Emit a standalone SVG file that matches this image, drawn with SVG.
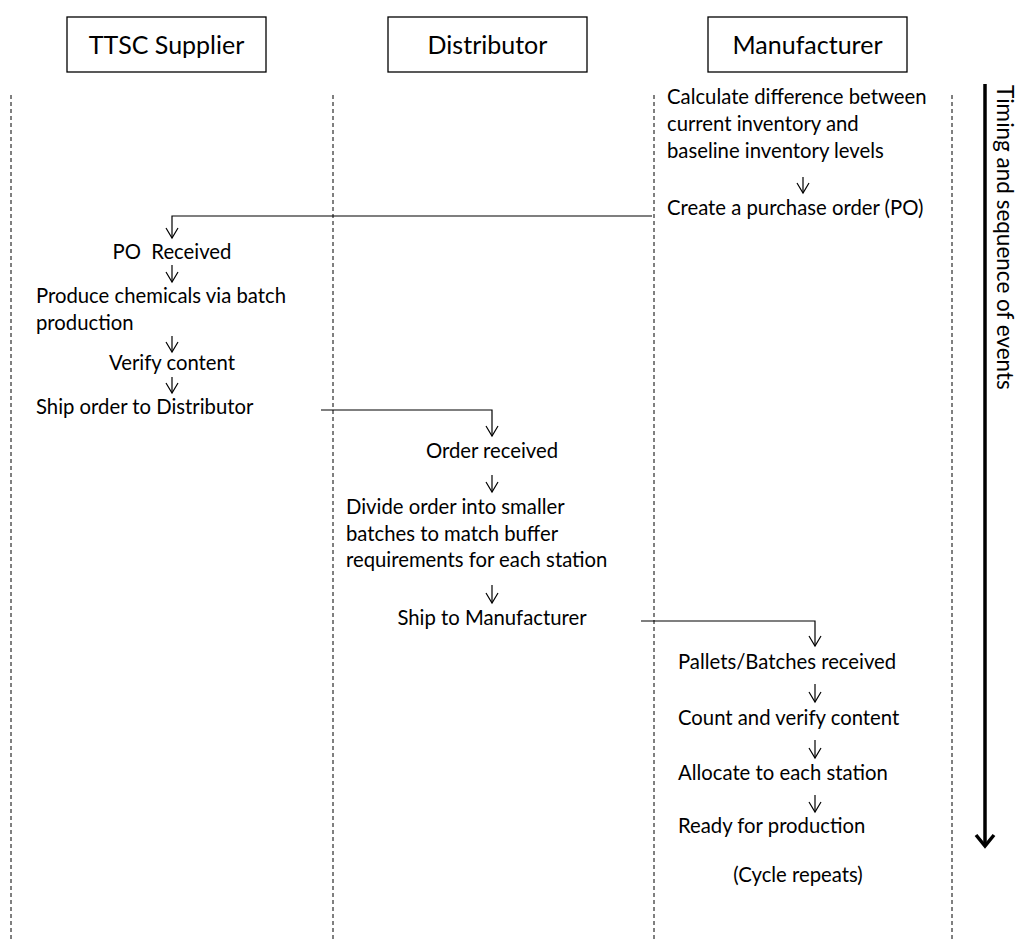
<svg xmlns="http://www.w3.org/2000/svg" width="1020" height="941" viewBox="0 0 1020 941">
<style>
.lane{stroke:#000;stroke-width:1;stroke-dasharray:4,3;fill:none}
.hdr{fill:#fff;stroke:#000;stroke-width:1.3}
.ht{font-family:Lato,"Open Sans",sans-serif;font-size:25px;fill:#000;text-anchor:middle}
.t{font-family:Lato,"Open Sans",sans-serif;font-size:20.3px;fill:#000;white-space:pre}
.c{text-anchor:middle}
.ln{stroke:#000;stroke-width:1.2;fill:none}
</style>
<defs>
<marker id="v" markerWidth="14" markerHeight="14" refX="11" refY="7" orient="auto" markerUnits="userSpaceOnUse" viewBox="0 0 14 14">
<path d="M1,1 L11,7 L1,13" fill="none" stroke="#000" stroke-width="1.2"/>
</marker>
<marker id="big" markerWidth="26" markerHeight="26" refX="20" refY="13" orient="auto" markerUnits="userSpaceOnUse" viewBox="0 0 26 26">
<path d="M9,4 L20,13 L9,22" fill="none" stroke="#000" stroke-width="3.5"/>
</marker>
</defs>
<rect width="1020" height="941" fill="#fff"/>
<g id="lanes">
<line class="lane" x1="11" y1="95" x2="11" y2="941"/>
<line class="lane" x1="333" y1="95" x2="333" y2="941"/>
<line class="lane" x1="654" y1="95" x2="654" y2="941"/>
<line class="lane" x1="952" y1="95" x2="952" y2="941"/>
</g>
<g id="hdr-supplier"><rect class="hdr" x="67" y="17" width="199" height="55"/><text class="ht" x="166.5" y="54">TTSC Supplier</text></g>
<g id="hdr-distributor"><rect class="hdr" x="388" y="17" width="199" height="55"/><text class="ht" x="487.5" y="54">Distributor</text></g>
<g id="hdr-manufacturer"><rect class="hdr" x="708" y="17" width="199" height="55"/><text class="ht" x="807.5" y="54">Manufacturer</text></g>
<g id="m-calc"><text class="t" x="667" y="104">Calculate difference between</text><text class="t" x="667" y="131">current inventory and</text><text class="t" x="667" y="158">baseline inventory levels</text></g>
<g id="m-po"><text class="t" x="667" y="215">Create a purchase order (PO)</text></g>
<g id="s-received"><text class="t c" x="172" y="259" xml:space="preserve">PO  Received</text></g>
<g id="s-produce"><text class="t" x="36" y="303">Produce chemicals via batch</text><text class="t" x="36" y="330">production</text></g>
<g id="s-verify"><text class="t c" x="172" y="370">Verify content</text></g>
<g id="s-ship"><text class="t" x="36" y="414">Ship order to Distributor</text></g>
<g id="d-received"><text class="t c" x="492" y="458">Order received</text></g>
<g id="d-divide"><text class="t" x="346" y="514">Divide order into smaller</text><text class="t" x="346" y="541">batches to match buffer</text><text class="t" x="346" y="567">requirements for each station</text></g>
<g id="d-ship"><text class="t c" x="492" y="625">Ship to Manufacturer</text></g>
<g id="m-pallets"><text class="t" x="678" y="669">Pallets/Batches received</text></g>
<g id="m-count"><text class="t" x="678" y="725">Count and verify content</text></g>
<g id="m-allocate"><text class="t" x="678" y="780">Allocate to each station</text></g>
<g id="m-ready"><text class="t" x="678" y="833">Ready for production</text></g>
<g id="m-cycle"><text class="t c" x="798" y="882">(Cycle repeats)</text></g>
<g id="timing">
<line x1="985" y1="84" x2="985" y2="846" stroke="#000" stroke-width="3.5" marker-end="url(#big)"/>
<text class="t" transform="translate(997,85) rotate(90)" style="font-size:22.5px">Timing and sequence of events</text>
</g>
<g id="connectors">
<path class="ln" d="M803,177 V193" marker-end="url(#v)"/>
<path class="ln" d="M652,216 H172 V238" marker-end="url(#v)"/>
<path class="ln" d="M172,265 V282" marker-end="url(#v)"/>
<path class="ln" d="M172,336 V352" marker-end="url(#v)"/>
<path class="ln" d="M172,377 V393" marker-end="url(#v)"/>
<path class="ln" d="M321,410 H492 V436" marker-end="url(#v)"/>
<path class="ln" d="M492,475 V492" marker-end="url(#v)"/>
<path class="ln" d="M492,585 V603" marker-end="url(#v)"/>
<path class="ln" d="M641,621 H815 V646" marker-end="url(#v)"/>
<path class="ln" d="M815,684 V702" marker-end="url(#v)"/>
<path class="ln" d="M815,740 V758" marker-end="url(#v)"/>
<path class="ln" d="M815,795 V812" marker-end="url(#v)"/>
</g>
</svg>
